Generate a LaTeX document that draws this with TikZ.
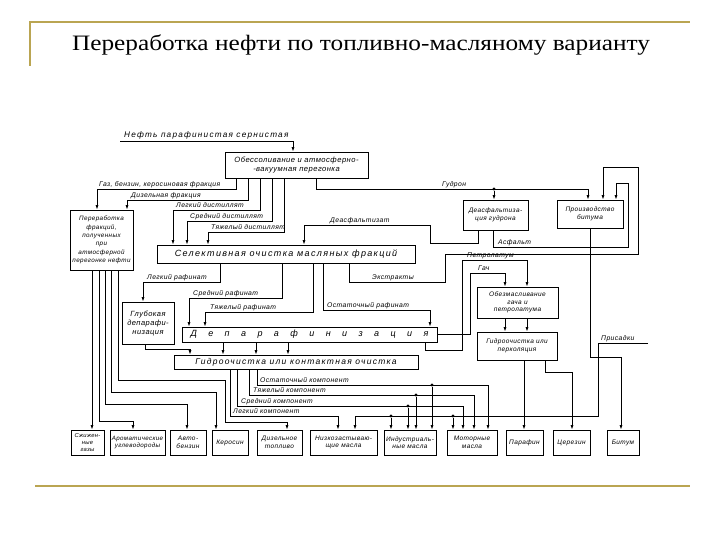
\documentclass[tikz,border=0pt]{standalone}
\usepackage{fontspec}
\usepackage{graphicx}
\usetikzlibrary{arrows.meta}
\newfontfamily\dfont[LetterSpace=6]{Liberation Sans}
\newfontfamily\wfont[LetterSpace=15]{Liberation Sans}
\newfontfamily\tfont{Liberation Serif}
\definecolor{gold}{RGB}{186,165,82}
\begin{document}
\begin{tikzpicture}[x=1pt,y=-1pt,
  box/.style={draw,line width=0.8pt,inner sep=0.5pt,align=center,font=\dfont\itshape\fontsize{6.5}{7.6}\selectfont},
  lbl/.style={inner sep=0pt,anchor=base west,font=\dfont\itshape\fontsize{6.8}{7}\selectfont},
  ln/.style={line width=0.75pt},
  arr/.style={ln,-{Latex[length=4.5pt,width=3pt]}},
  dot/.style={circle,fill,inner sep=0pt,minimum size=3.2pt},
  goldline/.style={draw=gold,line width=1.6pt}]
\useasboundingbox (0,0) rectangle (720,540);
% frame and title
\draw[goldline] (30,66) -- (30,22) -- (690,22);
\draw[goldline] (35,486) -- (690,486);
\node[anchor=base,inner sep=0pt] (title) at (361,51) {\scalebox{1.15}[1]{\tfont\fontsize{22}{26}\selectfont Переработка нефти по топливно-масляному варианту}};

% boxes
\node[box,minimum width=143,minimum height=26,font=\dfont\itshape\fontsize{7.6}{9}\selectfont] (A) at (296.5,165) {Обессоливание и атмосферно-\\-вакуумная перегонка};
\node[box,minimum width=63,minimum height=60,font=\dfont\itshape\fontsize{6.3}{8.4}\selectfont] (B) at (101.5,240) {Переработка\\фракций,\\полученных\\при\\атмосферной\\перегонке нефти};
\node[box,minimum width=258,minimum height=18,font=\wfont\itshape\fontsize{9}{10}\selectfont] (S) at (286,254) {Селективная очистка масляных фракций};
\node[box,minimum width=65,minimum height=30] (DA) at (495.5,215) {Деасфальтиза-\\ция гудрона};
\node[box,minimum width=66,minimum height=28] (PB) at (590,214) {Производство\\битума};
\node[box,minimum width=52,minimum height=42,font=\dfont\itshape\fontsize{7.5}{9}\selectfont] (GD) at (148,323) {Глубокая\\депарафи-\\низация};
\node[box,minimum width=255,minimum height=15,font=\dfont\itshape\fontsize{9}{10}\selectfont] (DP) at (309.5,334.5) {\makebox[238pt][s]{Д е п а р а ф и н и з а ц и я}};
\node[box,minimum width=244,minimum height=14,font=\wfont\itshape\fontsize{8.5}{9}\selectfont] (HC) at (296,362) {Гидроочистка или контактная очистка};
\node[box,minimum width=81,minimum height=31] (OM) at (517.5,302.5) {Обезмасливание\\гача и\\петролатума};
\node[box,minimum width=80,minimum height=28] (HP) at (517,346) {Гидроочистка или\\перколяция};

% products
\node[box,minimum width=33,minimum height=25,font=\dfont\itshape\fontsize{5.8}{6.7}\selectfont] (P1) at (87.5,442.5) {Сжижен-\\ные\\газы};
\node[box,minimum width=55,minimum height=25,font=\dfont\itshape\fontsize{6.2}{7.6}\selectfont] (P2) at (137.5,442.5) {Ароматические\\углеводороды};
\node[box,minimum width=36,minimum height=25] (P3) at (188,442.5) {Авто-\\бензин};
\node[box,minimum width=36,minimum height=25] (P4) at (230,442.5) {Керосин};
\node[box,minimum width=45,minimum height=25] (P5) at (279.5,442.5) {Дизельное\\топливо};
\node[box,minimum width=67,minimum height=25] (P6) at (343.5,442.5) {Низкозастываю-\\щие масла};
\node[box,minimum width=52,minimum height=25] (P7) at (410,442.5) {Индустриаль-\\ные масла};
\node[box,minimum width=50,minimum height=25] (P8) at (472,442.5) {Моторные\\масла};
\node[box,minimum width=37,minimum height=25] (P9) at (524.5,442.5) {Парафин};
\node[box,minimum width=37,minimum height=25] (P10) at (571.5,442.5) {Церезин};
\node[box,minimum width=32,minimum height=25] (P11) at (623,442.5) {Битум};

% feed
\node[lbl,font=\wfont\itshape\fontsize{8.2}{9}\selectfont] (oil) at (124,138) {Нефть парафинистая сернистая};
\coordinate (oilL) at (120,141);
\draw[arr] (oilL) -| (293,0 |- A.north);

% outputs of A
\draw[arr] (236,0 |- A.south) |- (97,189) -- (97,0 |- B.north);
\draw[arr] (248,0 |- A.south) |- (127,200) -- (127,0 |- B.north);
\draw[arr] (260,0 |- A.south) |- (173,210) -- (173,0 |- S.north);
\draw[arr] (272,0 |- A.south) |- (187,221) -- (187,0 |- S.north);
\draw[arr] (284,0 |- A.south) |- (208,232) -- (208,0 |- S.north);
\draw[arr] (316,0 |- A.south) |- (588,189) -- (588,0 |- PB.north);
\node[dot] (d1) at (494,189) {};
\draw[arr] (d1) -- (494,0 |- DA.north);

% deasphalting
\draw[arr] (478,0 |- DA.south) |- (430,243) |- (304,225) -- (304,0 |- S.north);
\draw[arr] (493,0 |- DA.south) |- (628,247) |- (616,183) -- (616,0 |- PB.north);
% extracts
\draw[arr] (349,0 |- S.south) |- (445,282) |- (638,254) |- (603,167) -- (603,0 |- PB.north);
% bitumen
\draw[arr] (590,0 |- PB.south) |- (621,357) -- (621,0 |- P11.north);

% raffinates
\draw[arr] (220,0 |- S.south) |- (143,282) -- (143,0 |- GD.north);
\draw[arr] (282,0 |- S.south) |- (189,298) -- (189,0 |- DP.north);
\draw[arr] (313,0 |- S.south) |- (205,312) -- (205,0 |- DP.north);
\draw[arr] (323,0 |- S.south) |- (430,310) -- (430,0 |- DP.north);

% slack wax and petrolatum
\draw[arr] (DP.east) -| (470,273) -| (505,0 |- OM.north);
\draw[arr] (425,0 |- DP.south) |- (462,350) |- (527,260) -- (527,0 |- OM.north);
\draw[arr] (505,0 |- OM.south) -- (505,0 |- HP.north);
\draw[arr] (527,0 |- OM.south) -- (527,0 |- HP.north);
\draw[arr] (524,0 |- HP.south) -- (524,0 |- P9.north);
\draw[arr] (545,0 |- HP.south) |- (572,372) -- (572,0 |- P10.north);

% dewaxing to hydrotreating
\draw[arr] (145,0 |- GD.south) |- (190,349) -- (190,0 |- HC.north);
\foreach \xx in {223,256,288} \draw[arr] (\xx,0 |- DP.south) -- (\xx,0 |- HC.north);

% components
\draw[arr] (257,0 |- HC.south) |- (488,385) -- (488,0 |- P8.north);
\node[dot] (d4) at (432,385) {};
\draw[arr] (d4) -- (432,0 |- P7.north);
\draw[arr] (249,0 |- HC.south) |- (474,395) -- (474,0 |- P8.north);
\node[dot] (d5) at (416,395) {};
\draw[arr] (d5) -- (416,0 |- P7.north);
\draw[arr] (237,0 |- HC.south) |- (463,406) -- (463,0 |- P8.north);
\node[dot] (d6) at (408,406) {};
\draw[arr] (d6) -- (408,0 |- P7.north);
\draw[arr] (230,0 |- HC.south) |- (338,416) -- (338,0 |- P6.north);

% additives
\coordinate (prs) at (648,343);
\draw[arr] (prs) -| (598,416) -| (355,0 |- P6.north);
\node[dot] (d7) at (391,416) {};
\draw[arr] (d7) -- (391,0 |- P7.north);
\node[dot] (d8) at (453,416) {};
\draw[arr] (d8) -- (453,0 |- P8.north);

% outputs of B
\draw[arr] (92,0 |- B.south) -- (92,0 |- P1.north);
\draw[arr] (99,0 |- B.south) |- (133,421) -- (133,0 |- P2.north);
\draw[arr] (105,0 |- B.south) |- (187,404) -- (187,0 |- P3.north);
\draw[arr] (111,0 |- B.south) |- (216,392) -- (216,0 |- P4.north);
\draw[arr] (118,0 |- B.south) |- (225,380) |- (287,422) -- (287,0 |- P5.north);

% labels
\node[lbl] (l1) at (99,186.5) {Газ, бензин, керосиновая фракция};
\node[lbl] (l2) at (131,197.5) {Дизельная фракция};
\node[lbl] (l3) at (176,207.5) {Легкий дистиллят};
\node[lbl] (l4) at (190,218.5) {Средний дистиллят};
\node[lbl] (l5) at (211,229.5) {Тяжелый дистиллят};
\node[lbl] (l6) at (330,222.5) {Деасфальтизат};
\node[lbl] (l7) at (442,186.5) {Гудрон};
\node[lbl] (l8) at (498,244.5) {Асфальт};
\node[lbl] (l9) at (147,279.5) {Легкий рафинат};
\node[lbl] (l10) at (372,279.5) {Экстракты};
\node[lbl] (l11) at (193,295.5) {Средний рафинат};
\node[lbl] (l12) at (210,309.5) {Тяжелый рафинат};
\node[lbl] (l13) at (327,307.5) {Остаточный рафинат};
\node[lbl] (l14) at (467,257.5) {Петролатум};
\node[lbl] (l15) at (478,270.5) {Гач};
\node[lbl] (l16) at (260,382.5) {Остаточный компонент};
\node[lbl] (l17) at (253,392.5) {Тяжелый компонент};
\node[lbl] (l18) at (241,403.5) {Средний компонент};
\node[lbl] (l19) at (233,413.5) {Легкий компонент};
\node[lbl] (l20) at (601,340.5) {Присадки};
\end{tikzpicture}
\end{document}
